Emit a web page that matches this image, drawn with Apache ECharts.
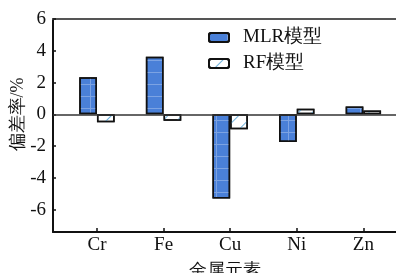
<!DOCTYPE html>
<html>
<head>
<meta charset="utf-8">
<script src="https://cdn.jsdelivr.net/npm/echarts@6/dist/echarts.min.js"></script>
<style>
html, body { margin: 0; padding: 0; background: #fff; }
#mainChart { width: 396px; height: 273px; }
</style>
</head>
<body>
<div id="mainChart"></div>
<script>
var categories = ["Cr", "Fe", "Cu", "Ni", "Zn"];
var mlrValues = [2.33, 3.63, -5.29, -1.74, 0.5];
var rfValues = [-0.5, -0.4, -0.93, 0.35, 0.25];
var seriesNames = ["MLR模型", "RF模型"];
var fontFamily = "Liberation Serif";

// bars sit on a value axis so the frame can start left of the first band
function toPoints(values) {
    var pts = [];
    for (var i = 0; i < values.length; i++) {
        pts.push([i + 1, values[i]]);
    }
    return pts;
}

var myChart = echarts.init(document.getElementById("mainChart"));
var option = {
    animation: false,
    textStyle: {
        fontFamily: fontFamily
    },
    grid: {
        left: 53,
        right: 0,
        top: 19,
        bottom: 41,
        outerBoundsMode: "none",
        containLabel: false
    },
    legend: {
        orient: "vertical",
        left: 203,
        top: 23,
        itemWidth: 20,
        itemHeight: 9,
        itemGap: 7,
        data: seriesNames,
        textStyle: {
            fontFamily: fontFamily,
            fontSize: 19,
            color: "#111",
            padding: [0, 0, 0, 9]
        }
    },
    xAxis: [{
        type: "value",
        position: "bottom",
        min: 0.34,
        max: 5.49,
        name: "金属元素",
        nameLocation: "middle",
        nameGap: 30,
        nameMoveOverlap: false,
        nameTextStyle: {
            fontFamily: fontFamily,
            fontSize: 18,
            color: "#111"
        },
        splitLine: { show: false },
        axisLine: {
            onZero: false,
            lineStyle: { color: "#111", width: 2 }
        },
        axisTick: {
            inside: true,
            length: 4,
            lineStyle: { color: "#111", width: 1.5 }
        },
        axisLabel: {
            showMinLabel: false,
            showMaxLabel: false,
            margin: 4,
            fontFamily: fontFamily,
            fontSize: 19,
            color: "#111",
            formatter: function (v) {
                return categories[v - 1] || "";
            }
        }
    }, {
        type: "value",
        position: "top",
        min: 0.34,
        max: 5.49,
        splitLine: { show: false },
        axisLine: {
            onZero: false,
            lineStyle: { color: "#555", width: 2 }
        },
        axisTick: { show: false },
        axisLabel: { show: false }
    }],
    yAxis: {
        type: "value",
        min: -7.4,
        max: 6,
        splitNumber: 7,
        name: "偏差率/%",
        nameLocation: "middle",
        nameRotate: 90,
        nameGap: 26,
        nameMoveOverlap: false,
        nameTextStyle: {
            fontFamily: fontFamily,
            fontSize: 18,
            color: "#111",
            padding: [0, 0, 0, 22]
        },
        splitLine: { show: false },
        axisLine: {
            show: true,
            lineStyle: { color: "#111", width: 2 }
        },
        axisTick: {
            inside: true,
            length: 3,
            lineStyle: { color: "#111", width: 1.5 }
        },
        axisLabel: {
            showMinLabel: false,
            margin: 7,
            fontFamily: fontFamily,
            fontSize: 19,
            color: "#111"
        }
    },
    series: [{
        name: seriesNames[0],
        type: "bar",
        data: toPoints(mlrValues),
        barWidth: 17.7,
        barGap: "0%",
        itemStyle: {
            color: "#4a80d8",
            borderColor: "#111",
            borderWidth: 1.5,
            decal: {
                symbol: "rect",
                symbolSize: 1,
                color: "rgba(255,255,255,0.28)",
                dashArrayX: [[40, 0], [1, 17]],
                dashArrayY: [1, 0, 11, 0],
                rotation: 0
            }
        },
        markLine: {
            silent: true,
            symbol: "none",
            label: { show: false },
            lineStyle: { color: "#333", width: 1.5, type: "solid" },
            data: [{ yAxis: 0 }]
        }
    }, {
        name: seriesNames[1],
        type: "bar",
        data: toPoints(rfValues),
        barWidth: 17.7,
        barGap: "0%",
        itemStyle: {
            color: "#ffffff",
            borderColor: "#111",
            borderWidth: 1.5,
            decal: {
                symbol: "rect",
                symbolSize: 1,
                color: "#6fb2dc",
                dashArrayX: [1, 0],
                dashArrayY: [1, 9],
                rotation: -Math.PI / 4
            }
        }
    }]
};

myChart.setOption(option);
</script>
</body>
</html>
